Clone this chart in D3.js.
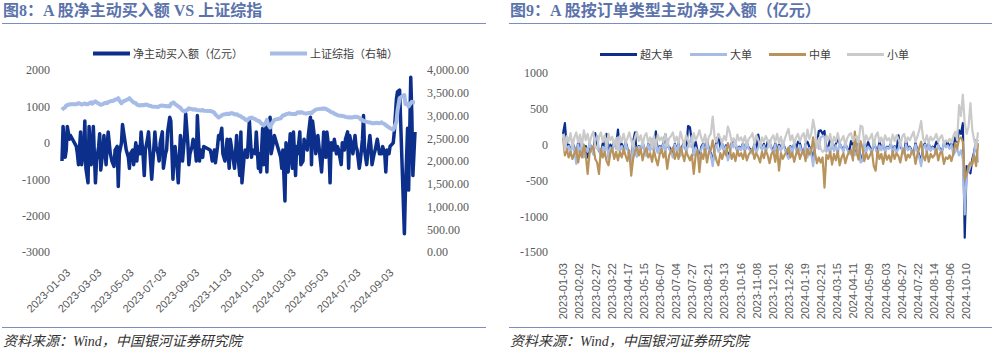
<!DOCTYPE html>
<html>
<head>
<meta charset="utf-8">
<script src="https://cdn.jsdelivr.net/npm/d3@7"></script>
<style>
  body { margin: 0; background: #fff; }
</style>
</head>
<body>
<div id="chart"></div>
<script>
// ---- data (one value every 2nd trading day) ----

// exchange holidays on weekdays, used to build the trading calendar
var holidays = ["2023-01-23","2023-01-24","2023-01-25","2023-01-26","2023-01-27","2023-04-05",
  "2023-05-01","2023-05-02","2023-05-03","2023-06-22","2023-06-23","2023-09-29",
  "2023-10-02","2023-10-03","2023-10-04","2023-10-05","2023-10-06","2024-01-01",
  "2024-02-09","2024-02-12","2024-02-13","2024-02-14","2024-02-15","2024-02-16",
  "2024-04-04","2024-04-05","2024-05-01","2024-05-02","2024-05-03","2024-06-10",
  "2024-09-16","2024-09-17","2024-10-01","2024-10-02","2024-10-03","2024-10-04","2024-10-07"];

var leftTicks = ["2023-01-03","2023-03-03","2023-05-03","2023-07-03","2023-09-03","2023-11-03",
  "2024-01-03","2024-03-03","2024-05-03","2024-07-03","2024-09-03"];

var rightTicks = ["2023-01-03","2023-02-02","2023-02-27","2023-03-22","2023-04-17","2023-05-15",
  "2023-06-07","2023-07-04","2023-07-27","2023-08-21","2023-09-13","2023-10-16","2023-11-08",
  "2023-12-01","2023-12-26","2024-01-19","2024-02-21","2024-03-15","2024-04-11","2024-05-09",
  "2024-06-03","2024-06-27","2024-07-22","2024-08-14","2024-09-06","2024-10-10"];

// 净主动买入额（亿元）
var netBuy = [-500,450,-400,-200,450,100,200,-100,-300,-600,
  300,-600,-200,600,-700,-1100,450,-600,-300,450,
  -1100,-500,-100,250,-750,-200,200,-600,-100,300,
  -300,-500,-650,-200,-100,-1200,-300,0,500,-200,
  -400,-700,-300,-200,-600,0,-500,-100,-300,300,
  -400,-900,-200,100,300,-550,-1000,300,-100,-300,
  -500,0,300,-700,-300,-200,300,700,600,-1000,
  -300,-100,-700,-1100,200,-100,-500,200,800,0,
  -600,-300,-100,100,-200,-500,750,-500,-200,-400,
  -100,-200,-300,-500,-200,-550,-100,200,100,400,
  -300,-500,-200,100,-700,100,-300,-500,-700,200,
  -300,-900,300,-1100,-400,-200,-400,100,600,-400,
  -200,-300,300,-700,-300,-800,400,-600,500,-800,
  200,700,-300,0,200,-400,-700,-200,-1600,0,
  -800,-200,250,-700,300,-900,-100,-300,300,-600,
  -500,100,-200,200,700,-600,600,100,-300,200,
  -800,-300,300,-400,300,-200,-1100,0,-200,100,
  -300,-100,-200,-600,0,-200,100,300,-700,200,
  -100,-300,200,-100,-200,-700,-500,100,750,-200,
  -600,-300,200,-100,-600,-300,-200,100,-100,-300,
  -300,-100,-300,-800,-200,-300,-100,0,300,1200,
  1400,1450,-2500,-1300,400,-1300,1800,800,-900,300];

// 上证综指（右轴）
var shIndex = [3125,3150,3180,3220,3230,3240,3250,3245,3260,3270,
  3255,3240,3255,3265,3250,3250,3270,3290,3260,3280,
  3310,3290,3260,3250,3235,3250,3265,3280,3270,3295,
  3310,3320,3330,3350,3360,3380,3330,3270,3300,3340,
  3360,3380,3350,3310,3285,3270,3240,3230,3220,3230,
  3225,3230,3240,3235,3220,3210,3200,3190,3195,3185,
  3200,3215,3220,3215,3210,3200,3205,3200,3250,3285,
  3280,3250,3220,3200,3170,3140,3110,3090,3110,3130,
  3160,3150,3140,3130,3135,3125,3120,3115,3110,3120,
  3105,3100,3090,3090,3060,3020,2980,2955,2970,3000,
  3020,3030,3030,3040,3030,3050,3050,3040,3020,3030,
  3010,2990,2980,2960,2940,2910,2890,2920,2940,2955,
  2940,2920,2900,2880,2870,2840,2800,2780,2840,2905,
  2820,2735,2800,2870,2905,2940,2970,3000,3010,3030,
  3040,3050,3040,3030,3035,3030,3050,3070,3060,3075,
  3060,3050,3045,3055,3060,3050,3080,3110,3130,3140,
  3150,3145,3155,3150,3130,3110,3090,3075,3060,3040,
  3020,3010,3000,2995,2990,2980,2970,2960,2955,2960,
  2955,2960,2975,2965,2970,2950,2920,2900,2880,2870,
  2860,2855,2845,2840,2830,2830,2835,2840,2830,2830,
  2850,2830,2810,2790,2770,2740,2720,2690,2740,2860,
  3100,3380,3450,3250,3260,3200,3270,3300,3290,3285];

// 按订单类型主动净买入额（亿元）
var superLarge = [150,300,-50,0,-100,20,-40,-200,40,-100,
  30,-150,-20,-180,20,-50,-120,160,-10,-90,
  -120,20,-60,150,-160,0,-50,40,-30,210,
  -60,10,-100,50,-50,-150,-250,40,170,-160,
  -20,-80,30,-60,-130,10,-70,60,-80,185,
  -100,-20,-50,20,145,-30,-30,-80,-150,10,
  -70,20,-140,-20,30,-90,260,240,40,-120,
  40,-90,-180,-30,20,-100,60,-60,-120,-250,
  -50,20,140,-40,10,-80,-10,-180,-100,20,
  60,20,-100,-30,-60,20,-80,20,-40,-70,
  -100,10,-90,140,0,-60,10,-80,40,20,
  -40,-90,20,-110,10,-70,20,-40,-120,-160,
  -20,-90,20,-60,40,20,-80,-120,10,40,
  -30,-100,-200,-50,0,190,200,150,190,-80,
  -30,85,20,-70,10,80,20,-40,-80,10,
  -50,-100,50,-10,-120,-80,20,-200,-180,10,
  -80,40,-40,-100,20,-40,-120,40,-60,20,
  -90,-30,-40,10,-100,-20,-90,130,-20,-70,
  -110,60,-60,-30,-80,-120,20,-70,-150,-250,
  -40,20,-90,15,-70,-30,-50,40,-10,-60,
  -90,10,-20,40,-40,10,-60,100,40,200,
  150,300,-1300,-300,-350,-400,-200,-100,60,40];

var large = [50,100,-80,-20,-150,60,-90,-270,0,-120,
  30,-180,-50,-100,20,-60,-140,60,120,-80,
  -150,-30,-100,80,-200,-40,-90,40,-60,100,
  -80,-20,-130,20,-60,-160,-300,50,-60,-170,
  -30,-100,60,-80,-160,0,-90,80,-90,60,
  -120,-30,-70,10,-130,80,-60,-110,-180,0,
  -90,10,-160,-50,40,-100,-20,40,120,-150,
  -40,-110,-230,-60,0,-120,40,-80,-140,-300,
  -70,0,-100,-60,20,-100,-30,-220,-140,20,
  -40,60,-120,-40,-80,10,-100,50,-60,-90,
  -130,10,-110,-50,40,-80,-10,-100,-40,60,
  -60,-110,0,-130,-20,-90,40,-60,-140,-200,
  -30,-110,20,-80,-130,-10,-100,-140,10,-180,
  -50,-130,-300,-60,50,-60,100,120,110,-100,
  -40,-130,40,-90,-10,-140,30,-50,-100,40,
  -70,-120,-140,-20,-150,-100,10,-250,-230,30,
  -100,-30,-60,-130,60,-50,-150,-10,-80,40,
  -110,-40,-60,10,-120,-30,-110,-60,40,-90,
  -130,0,-80,-40,-100,-150,0,-90,-180,-300,
  -60,0,-110,20,-90,-40,-70,-130,0,-80,
  -110,30,-40,-10,-60,0,-150,-100,-60,-150,
  -80,-200,-975,-400,-380,-300,-250,-120,60,-250];

var medium = [100,-150,-60,-180,-100,-200,-120,-60,-250,-90,
  -180,0,-140,-410,-120,-60,-20,-200,-250,-410,
  -60,-180,-100,-230,-290,-120,-50,-200,-100,-220,
  -100,-180,-60,-150,-230,-80,-435,-200,-90,-40,
  -150,-60,-220,-100,-50,-180,-120,-240,-80,-200,
  -290,-140,-60,-180,-100,-340,-150,-90,-40,-200,
  -100,-200,-40,-120,-230,-90,-160,-220,-140,-410,
  -150,-80,-385,-120,-200,-60,-250,-100,-80,60,
  -120,-220,-290,-120,-200,-90,-150,20,-60,-200,
  -120,-230,-80,-160,-120,-200,-90,-220,-140,-100,
  -60,-200,-120,-170,-250,-100,-190,-80,-150,-260,
  -130,-90,-240,-60,-365,-120,-200,-140,-100,-40,
  -180,-110,-240,-130,-60,-200,-120,-80,-230,-60,
  -140,-100,100,-120,-260,-180,-250,-180,-600,-140,
  -200,-100,-280,-130,-220,-90,-290,-180,-120,-260,
  -160,-100,-80,-220,180,-120,-210,50,-40,-230,
  -120,-200,-150,-90,-300,-365,-80,-200,-130,-270,
  -110,-210,-150,-240,-90,-200,-120,-160,-250,-110,
  -60,-220,-140,-180,-100,-80,-270,-140,-50,40,
  -150,-220,-100,-240,-130,-180,-150,-60,-220,-120,
  -100,-270,-180,-200,-150,-230,-120,20,-60,80,
  100,40,-480,-420,-300,-250,-280,-150,-300,20];

var small = [150,-80,120,40,160,-40,100,170,30,140,
  -20,200,60,150,10,120,180,-30,-60,110,
  170,40,130,-20,150,60,110,-10,90,-80,
  120,40,150,20,90,170,60,-20,100,180,
  50,130,-10,120,160,30,100,-40,120,-30,
  140,60,100,30,150,-20,90,120,170,40,
  110,20,180,80,-10,130,50,-30,20,160,
  60,120,200,90,30,140,-10,110,150,390,
  100,40,150,90,30,120,60,250,170,40,
  90,-20,140,60,100,30,120,-10,80,110,
  160,20,130,70,-20,100,40,120,60,-30,
  90,130,30,150,20,110,-30,80,155,220,
  60,130,10,100,150,40,120,160,30,210,
  80,150,345,200,-40,90,-60,-100,-80,130,
  60,150,-20,110,40,160,30,70,120,-10,
  90,140,160,50,100,120,30,265,250,20,
  130,60,90,150,-10,120,170,40,100,10,
  130,60,90,20,140,50,130,80,-10,110,
  150,30,100,60,120,180,40,110,200,330,
  90,40,130,20,110,60,90,150,40,100,
  130,10,60,40,80,30,120,180,60,550,
  400,700,300,150,250,580,200,60,-50,170];

// ---- calendar ----
var parse = d3.utcParse("%Y-%m-%d");
var fmt = d3.utcFormat("%Y-%m-%d");

var tradeDays = [];
var day = parse("2023-01-03");
while (tradeDays.length < 2 * netBuy.length - 1) {
  var wd = day.getUTCDay();
  if (wd !== 0 && wd !== 6 && holidays.indexOf(fmt(day)) < 0) tradeDays.push(day);
  day = d3.utcDay.offset(day, 1);
}

var COL_NAVY = "#0c2f8c", COL_LIGHT = "#a6bbe6", COL_TAN = "#b8935c", COL_GRAY = "#cacaca";
var COL_TITLE = "#5b73ab", COL_RULE = "#7a8ec0", COL_AXIS = "#595959";
var SERIF = "Liberation Serif, Noto Sans CJK SC, serif";

var svg = d3.select("#chart").append("svg")
  .attr("width", 1001).attr("height", 351)
  .attr("font-family", SERIF);

// frame: title, rules and source line for one panel
function drawFrame(x0, x1, title){
  svg.append("text")
    .attr("x", x0 + 1).attr("y", 16)
    .attr("font-size", 16).attr("font-weight", "bold")
    .attr("fill", COL_TITLE)
    .text(title);
  svg.append("line")
    .attr("x1", x0).attr("x2", x1).attr("y1", 23.5).attr("y2", 23.5)
    .attr("stroke", COL_RULE).attr("stroke-width", 1.2);
  svg.append("line")
    .attr("x1", x0).attr("x2", x1).attr("y1", 327.5).attr("y2", 327.5)
    .attr("stroke", COL_RULE).attr("stroke-width", 1.2);
  svg.append("text")
    .attr("x", x0 + 1).attr("y", 346)
    .attr("font-size", 14).attr("font-style", "italic")
    .attr("fill", "#333")
    .text("资料来源：Wind，中国银河证券研究院");
}

function legendItem(x, y, color, width, label){
  svg.append("line")
    .attr("x1", x).attr("x2", x + 37).attr("y1", y).attr("y2", y)
    .attr("stroke", color).attr("stroke-width", width);
  svg.append("text")
    .attr("x", x + 40).attr("y", y + 4)
    .attr("font-size", 11).attr("fill", "#404040")
    .text(label);
}

function styleAxis(g, size, family){
  g.select(".domain").remove();
  g.attr("font-size", size).attr("font-family", family);
  g.selectAll("text").attr("fill", COL_AXIS);
}

var plainInt = d => String(d);

// ======== left: 图8 ========
drawFrame(2, 486, "图8：A 股净主动买入额 VS 上证综指");
legendItem(93, 53.5, COL_NAVY, 4, "净主动买入额（亿元）");
legendItem(270, 53.5, COL_LIGHT, 4, "上证综指（右轴）");

var xL = d3.scaleUtc()
  .domain([tradeDays[0], tradeDays[tradeDays.length - 1]])
  .range([62, 415]);
var yL = d3.scaleLinear().domain([-3000, 2000]).range([252, 70]);
var yR = d3.scaleLinear().domain([0, 4000]).range([252, 70]);

svg.append("g")
  .attr("transform", "translate(50,0)")
  .call(d3.axisLeft(yL).tickValues([-3000,-2000,-1000,0,1000,2000])
    .tickSize(0).tickPadding(0).tickFormat(plainInt))
  .call(g => styleAxis(g, 12, SERIF));

svg.append("g")
  .attr("transform", "translate(427,0)")
  .call(d3.axisRight(yR).tickValues([0,500,1000,1500,2000,2500,3000,3500,4000])
    .tickSize(0).tickPadding(0).tickFormat(d3.format(",.2f")))
  .call(g => styleAxis(g, 12, SERIF));

svg.append("g")
  .attr("transform", "translate(0,262)")
  .call(d3.axisBottom(xL).tickValues(leftTicks.map(parse)).tickSize(0).tickFormat(fmt))
  .call(g => styleAxis(g, 11, "Liberation Sans, Arial, sans-serif"))
  .selectAll("text")
    .attr("y", 0).attr("dy", 0)
    .attr("text-anchor", "end")
    .attr("transform", "translate(8.5,11.5) rotate(-45)");

var lineNet = d3.line()
  .x((d, k) => xL(tradeDays[2 * k]))
  .y(d => yL(d));
var lineIdx = d3.line()
  .x((d, k) => xL(tradeDays[2 * k]))
  .y(d => yR(d));

svg.append("path")
  .datum(netBuy)
  .attr("d", lineNet)
  .attr("fill", "none").attr("stroke", COL_NAVY)
  .attr("stroke-width", 3.5).attr("stroke-linejoin", "round");

svg.append("path")
  .datum(shIndex)
  .attr("d", lineIdx)
  .attr("fill", "none").attr("stroke", COL_LIGHT)
  .attr("stroke-width", 4).attr("stroke-linejoin", "round");

// ======== right: 图9 ========
drawFrame(509, 992, "图9：A 股按订单类型主动净买入额（亿元）");
legendItem(600, 54.5, COL_NAVY, 3, "超大单");
legendItem(690, 54.5, COL_LIGHT, 3, "大单");
legendItem(769, 54.5, COL_TAN, 3, "中单");
legendItem(847, 54.5, COL_GRAY, 3, "小单");

var xC = d3.scaleLinear().domain([0, tradeDays.length - 1]).range([563, 978]);
var yC = d3.scaleLinear().domain([-1500, 1000]).range([252, 73]);

svg.append("g")
  .attr("transform", "translate(548,0)")
  .call(d3.axisLeft(yC).tickValues([-1500,-1000,-500,0,500,1000])
    .tickSize(0).tickPadding(0).tickFormat(plainInt))
  .call(g => styleAxis(g, 12, SERIF));

svg.append("g")
  .attr("transform", "translate(0,263)")
  .call(d3.axisBottom(xC).tickValues(rightTicks.map((d, j) => j * 17))
    .tickSize(0).tickFormat((d, j) => rightTicks[j]))
  .call(g => styleAxis(g, 11, "Liberation Sans, Arial, sans-serif"))
  .selectAll("text")
    .attr("x", 0).attr("y", 0).attr("dy", "0.35em")
    .attr("text-anchor", "end")
    .attr("transform", "rotate(-90)");

var lineC = d3.line()
  .x((d, k) => xC(2 * k))
  .y(d => yC(d));

var series = [
  {values: superLarge, color: COL_NAVY},
  {values: large, color: COL_LIGHT},
  {values: medium, color: COL_TAN},
  {values: small, color: COL_GRAY}
];

svg.append("g")
  .selectAll("path")
  .data(series)
  .enter()
  .append("path")
  .attr("d", d => lineC(d.values))
  .attr("fill", "none")
  .attr("stroke", d => d.color)
  .attr("stroke-width", 2.2)
  .attr("stroke-linejoin", "round");
</script>
</body>
</html>
